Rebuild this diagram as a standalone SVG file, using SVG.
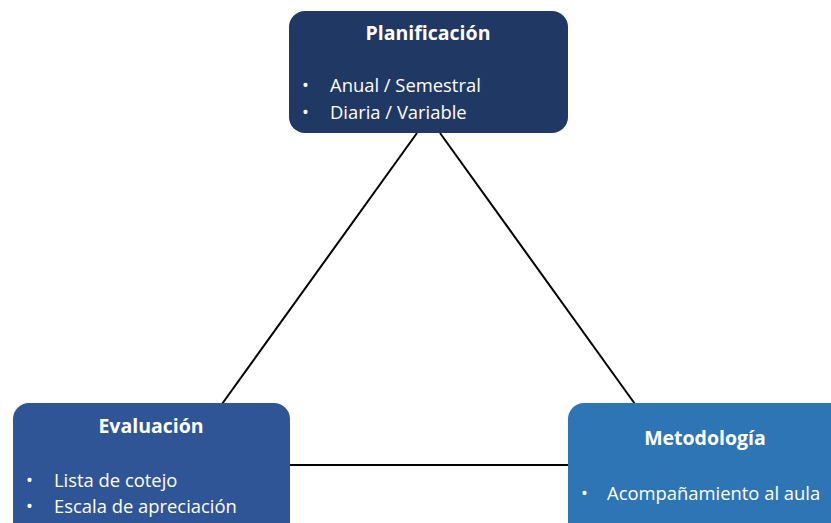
<svg xmlns="http://www.w3.org/2000/svg" width="831" height="523" viewBox="0 0 831 523">
<style>
.t{font-family:"Open Sans","Liberation Sans",sans-serif;font-weight:bold;font-size:19.5px;fill:#fff;text-anchor:middle}
.b{font-family:"Open Sans","Liberation Sans",sans-serif;font-size:18.4px;fill:#fff}
.ln{stroke:#000;stroke-width:2;fill:none}
</style>
<rect width="831" height="523" fill="#fff"/>
<g id="connectors">
<line class="ln" x1="417" y1="133" x2="222" y2="404"/>
<line class="ln" x1="440" y1="133" x2="635" y2="404"/>
<line class="ln" x1="290" y1="465" x2="568" y2="465"/>
</g>
<g id="planificacion">
<rect x="289" y="11" width="279" height="122" rx="16" fill="#203864"/>
<text class="t" x="428" y="40">Planificación</text>
<text class="b" x="302" y="92">•</text><text class="b" x="330" y="92">Anual / Semestral</text>
<text class="b" x="302" y="119">•</text><text class="b" x="330" y="119">Diaria / Variable</text>
</g>
<g id="evaluacion">
<rect x="13" y="403" width="277" height="140" rx="16" fill="#2F5597"/>
<text class="t" x="151" y="433">Evaluación</text>
<text class="b" x="26" y="487">•</text><text class="b" x="54" y="487">Lista de cotejo</text>
<text class="b" x="26" y="513">•</text><text class="b" x="54" y="513">Escala de apreciación</text>
</g>
<g id="metodologia">
<rect x="568" y="403" width="290" height="140" rx="16" fill="#2E75B6"/>
<text class="t" x="705" y="445">Metodología</text>
<text class="b" x="581" y="500">•</text><text class="b" x="607" y="500">Acompañamiento al aula</text>
</g>
</svg>
